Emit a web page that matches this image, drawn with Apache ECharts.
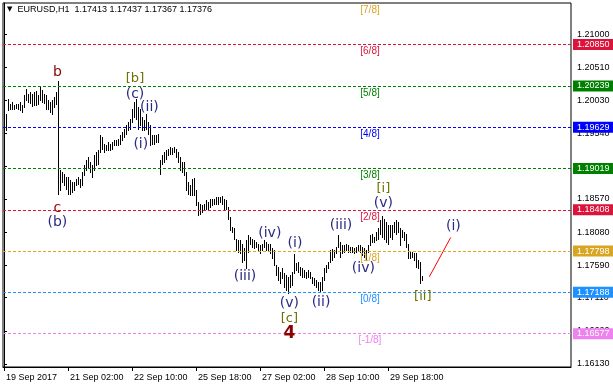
<!DOCTYPE html>
<html><head><meta charset="utf-8">
<script src="https://cdn.jsdelivr.net/npm/echarts@6/dist/echarts.min.js"></script>
<style>html,body{margin:0;padding:0;background:#fff}#c{width:613px;height:387px}</style>
</head><body><div id="c"></div>
<script>
const symbolName = 'EURUSD,H1';
const lastOHLC = [1.17413, 1.17437, 1.17367, 1.17376];
const currentPrice = 1.17376;

const highs = [
1.19805,1.19829,1.20041,1.19977,1.20001,1.19962,1.19977,1.19977,1.20001,1.19952,
1.20100,1.20188,1.20124,1.20149,1.20124,1.20149,1.20159,1.20100,1.20223,1.20174,
1.20124,1.20100,1.20026,1.20001,1.20026,1.20075,1.20149,1.20306,1.18993,1.18968,
1.18944,1.18894,1.18894,1.18845,1.18821,1.18821,1.18870,1.18894,1.18870,1.18968,
1.19067,1.19140,1.19190,1.19116,1.19067,1.19214,1.19263,1.19288,1.19519,1.19485,
1.19386,1.19362,1.19411,1.19386,1.19411,1.19436,1.19436,1.19460,1.19509,1.19559,
1.19608,1.19657,1.19706,1.19755,1.19903,1.20001,1.20041,1.19928,1.19903,1.19780,
1.19731,1.19829,1.19706,1.19657,1.19509,1.19509,1.19509,1.19534,1.19140,1.19214,
1.19263,1.19288,1.19313,1.19337,1.19322,1.19337,1.19313,1.19263,1.19190,1.19116,
1.19116,1.18968,1.18821,1.18771,1.18870,1.18880,1.18698,1.18525,1.18501,1.18476,
1.18501,1.18550,1.18525,1.18575,1.18575,1.18575,1.18599,1.18599,1.18599,1.18609,
1.18575,1.18550,1.18452,1.18304,1.18156,1.18132,1.17984,1.17960,1.17960,1.17910,
1.17837,1.17960,1.18033,1.18009,1.17984,1.17960,1.17935,1.17910,1.17886,1.17910,
1.17960,1.17935,1.17910,1.17910,1.17837,1.17812,1.17591,1.17566,1.17492,1.17541,
1.17468,1.17443,1.17418,1.17443,1.17492,1.17753,1.17615,1.17640,1.17566,1.17541,
1.17517,1.17492,1.17517,1.17492,1.17418,1.17394,1.17369,1.17345,1.17345,1.17418,
1.17541,1.17591,1.17640,1.17812,1.17822,1.17812,1.17861,1.18033,1.17935,1.17886,
1.17886,1.17910,1.17886,1.17861,1.17861,1.17837,1.17861,1.17886,1.17886,1.17861,
1.17837,1.17812,1.17886,1.18033,1.18058,1.18009,1.18083,1.18132,1.18255,1.18314,
1.18279,1.18230,1.18181,1.18181,1.18181,1.18230,1.18255,1.18230,1.18132,1.18107,
1.18083,1.18058,1.17910,1.17787,1.17787,1.17763,1.17763,1.17664,1.17640,1.17437
];
const lows = [
1.19657,1.19593,1.19878,1.19903,1.19903,1.19903,1.19913,1.19903,1.19878,1.19854,
1.19928,1.20026,1.20001,1.19992,1.19942,1.19952,1.19962,1.19977,1.20026,1.20001,
1.19992,1.19903,1.19903,1.19854,1.19829,1.19928,1.19977,1.18648,1.18698,1.18821,
1.18771,1.18722,1.18648,1.18648,1.18673,1.18698,1.18771,1.18796,1.18747,1.18771,
1.18919,1.18993,1.19042,1.18968,1.18894,1.18993,1.19067,1.19091,1.19263,1.19313,
1.19263,1.19288,1.19288,1.19288,1.19313,1.19362,1.19362,1.19362,1.19386,1.19436,
1.19485,1.19534,1.19583,1.19608,1.19706,1.19780,1.19755,1.19608,1.19657,1.19583,
1.19583,1.19608,1.19534,1.19362,1.19386,1.19386,1.19411,1.19411,1.18944,1.19091,
1.19116,1.19165,1.19214,1.19239,1.19239,1.19263,1.19190,1.19116,1.18993,1.18968,
1.18919,1.18698,1.18648,1.18624,1.18624,1.18624,1.18476,1.18329,1.18353,1.18378,
1.18402,1.18427,1.18427,1.18452,1.18476,1.18501,1.18501,1.18501,1.18525,1.18501,
1.18402,1.18427,1.18279,1.18107,1.18083,1.17984,1.17812,1.17787,1.17763,1.17640,
1.17664,1.17541,1.17787,1.17910,1.17861,1.17837,1.17861,1.17812,1.17763,1.17812,
1.17861,1.17812,1.17812,1.17763,1.17689,1.17591,1.17443,1.17369,1.17320,1.17394,
1.17271,1.17222,1.17172,1.17271,1.17295,1.17468,1.17517,1.17492,1.17443,1.17418,
1.17418,1.17394,1.17418,1.17394,1.17320,1.17295,1.17271,1.17222,1.17197,1.17222,
1.17369,1.17492,1.17541,1.17640,1.17664,1.17714,1.17763,1.17861,1.17714,1.17763,
1.17787,1.17812,1.17787,1.17787,1.17787,1.17763,1.17787,1.17812,1.17787,1.17738,
1.17714,1.17664,1.17787,1.17886,1.17935,1.17935,1.17960,1.17984,1.18058,1.18009,
1.17984,1.17935,1.17910,1.18009,1.17984,1.18083,1.18058,1.18083,1.17886,1.18009,
1.17960,1.17861,1.17689,1.17689,1.17714,1.17664,1.17566,1.17541,1.17330,1.17367
];

const xTickIdx = [0, 32, 64, 96, 128, 160, 192];
const xTickLabels = ['19 Sep 2017','21 Sep 02:00','22 Sep 10:00','25 Sep 18:00','27 Sep 02:00','28 Sep 10:00','29 Sep 18:00'];
const yTicks = [1.16130,1.16620,1.17110,1.17590,1.18080,1.18570,1.19050,1.19540,1.20030,1.20510,1.21000];

const mmLevels = [1.21460,1.20850,1.20239,1.19629,1.19019,1.18408,1.17798,1.17188,1.16577];
const mmNames  = ['[7/8]','[6/8]','[5/8]','[4/8]','[3/8]','[2/8]','[1/8]','[0/8]','[-1/8]'];
const mmColors = ['#DAA520','#DC143C','#008000','#0000FF','#008000','#DC143C','#DAA520','#1E90FF','#EE82EE'];
const mmShowLine = [false,true,true,true,true,true,true,true,true];
const mmLabelIdx = 183;

const waveText  = ['b','c','(b)','[b]','(c)','(ii)','(i)','(iii)','(iv)','(i)','(v)','[c]','4','(ii)','(iii)','(iv)','(v)','[i]','[ii]','(i)'];
const waveIdx   = [26.7,26.7,26.7,65.5,65.5,72.7,68.4,120.5,132.9,145.5,142.7,142.7,142.7,158.5,168.5,179.7,189.7,189.7,209.4,224.7];
const wavePrice = [1.20444,1.18427,1.18221,1.20346,1.20110,1.19918,1.19372,1.17418,1.18058,1.17911,1.17025,1.16793,1.16582,1.17034,1.18181,1.17542,1.18501,1.18722,1.17125,1.18166];
const waveKind  = ['deg1','deg1s','minor','inter','minor','minor','minor','minor','minor','minor','minor','inter','big','minor','minor','minor','minor','inter','inter','minor'];
const projLine = [[212.65, 1.17418], [223.35, 1.17999]];

const FONT = "'Liberation Sans', Arial, sans-serif";
const WFONT = "'DejaVu Sans', sans-serif";
const kindStyle = {
  deg1:  {color:'#8B0000', fontSize:14, fontFamily:WFONT},
  deg1s: {color:'#A00000', fontSize:14, fontFamily:WFONT},
  minor: {color:'#2A2A84', fontSize:14, fontFamily:WFONT},
  inter: {color:'#6E7200', fontSize:13, fontFamily:WFONT},
  big:   {color:'#8B0000', fontSize:17, fontWeight:'bold', fontFamily:WFONT}
};

const chart = echarts.init(document.getElementById('c'), null, {renderer:'canvas'});

const bars = highs.map((h, i) => [i, h, lows[i]]);

const markLines = [];
mmLevels.forEach((v, i) => {
  if (!mmShowLine[i]) return;
  markLines.push({
    yAxis: v,
    lineStyle: {color: mmColors[i], type: [3, 2], width: 1},
    label: {show: true, position: 'end', distance: 2, formatter: v.toFixed(5),
      backgroundColor: mmColors[i], color: '#fff', fontSize: 9, fontFamily: FONT,
      padding: [1, 0, 1, 4], width: 36, height: 9, lineHeight: 9, align: 'left'}
  });
});
markLines.push({
  yAxis: currentPrice,
  lineStyle: {opacity: 0},
  label: {show: true, position: 'end', distance: 2, formatter: currentPrice.toFixed(5),
    backgroundColor: '#000', color: '#fff', fontSize: 9, fontFamily: FONT,
    padding: [1, 0, 1, 4], width: 36, height: 9, lineHeight: 9, align: 'left'}
});

const textItems = [];
mmLevels.forEach((v, i) => {
  textItems.push({value: [mmLabelIdx, v], label: {formatter: mmNames[i], color: mmColors[i], fontSize: 10, fontFamily: FONT, offset: [0, 7]}});
});
waveText.forEach((t, i) => {
  textItems.push({value: [waveIdx[i], wavePrice[i]], label: Object.assign({formatter: t}, kindStyle[waveKind[i]])});
});

chart.setOption({
  animation: false,
  backgroundColor: '#fff',
  title: {
    text: '{t|▼}  ' + symbolName + '  ' + lastOHLC.map(v => v.toFixed(5)).join(' '),
    left: 7, top: 5, padding: 0,
    textStyle: {fontSize: 9, fontWeight: 'normal', color: '#000', fontFamily: FONT,
      rich: {t: {fontSize: 7, color: '#000', fontFamily: WFONT}}}
  },
  grid: {left: 3, top: 3, right: 42, bottom: 20, show: true, borderColor: '#000', borderWidth: 1, backgroundColor: 'transparent'},
  xAxis: {
    type: 'value', min: -0.5, max: 283.5,
    axisLine: {show: true, lineStyle: {color: '#000'}},
    splitLine: {show: false},
    axisTick: {show: true, length: 4, lineStyle: {color: '#000'}, customValues: xTickIdx},
    axisLabel: {show: true, customValues: xTickIdx, align: 'left', margin: 6, padding: [0, 0, 0, 2],
      fontSize: 9, fontFamily: FONT, color: '#000',
      formatter: v => { const j = xTickIdx.indexOf(Math.round(v)); return j >= 0 ? xTickLabels[j] : ''; }}
  },
  yAxis: {
    type: 'value', position: 'right', min: 1.160849, max: 1.21465, scale: true,
    axisLine: {show: true, lineStyle: {color: '#000'}},
    splitLine: {show: false},
    axisTick: {show: true, length: 3, lineStyle: {color: '#000'}, customValues: yTicks},
    axisLabel: {show: true, customValues: yTicks, margin: 6, fontSize: 9, fontFamily: FONT, color: '#000',
      formatter: v => v.toFixed(5)}
  },
  series: [
    {
      type: 'custom',
      data: bars,
      encode: {x: 0, y: [1, 2]},
      renderItem: (params, api) => {
        const k = api.value(0);
        const p1 = api.coord([k, api.value(1)]);
        const p2 = api.coord([k, api.value(2)]);
        const x = Math.round(p1[0]) + 0.5;
        return {type: 'line', shape: {x1: x, y1: Math.round(p1[1]), x2: x, y2: Math.round(p2[1]) + 1},
          style: {stroke: '#000', lineWidth: 1}};
      },
      markLine: {silent: true, symbol: ['none', 'none'], precision: 5, data: markLines},
      z: 3
    },
    {
      type: 'line', data: projLine, showSymbol: false, symbol: 'none',
      lineStyle: {color: '#FF0000', width: 1}, z: 4, silent: true
    },
    {
      type: 'scatter', data: textItems, symbolSize: 0.1,
      itemStyle: {color: 'rgba(0,0,0,0)', opacity: 1},
      label: {show: true, position: 'inside', opacity: 1}, z: 5, silent: true
    }
  ]
});
</script>
</body></html>
